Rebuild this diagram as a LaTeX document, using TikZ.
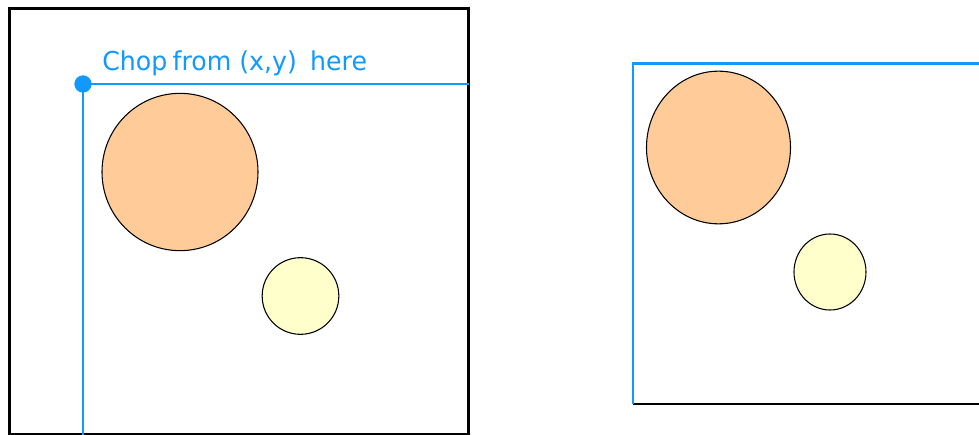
\documentclass[tikz,border=0pt]{standalone}
\usepackage{fontspec}
\setmainfont{DejaVu Sans}
\newfontfamily\chopfont[FakeStretch=0.97]{DejaVu Sans}
\usetikzlibrary{positioning,shapes.geometric}
\definecolor{chopBlue}{RGB}{17,153,255}
\definecolor{ballOrange}{RGB}{255,204,153}
\definecolor{ballYellow}{RGB}{255,255,204}

\begin{document}
\begin{tikzpicture}[x=0.75pt,y=-0.75pt,
  ball/.style={ellipse, draw=black, line width=0.8pt, inner sep=0pt},
  frame/.style={line width=2.2pt}]
\clip (0,0) rectangle (979,435);
% original picture
\begin{scope}
\draw[black, frame] (9.5,8.5) rectangle (468.5,434);
\node[ball, fill=ballOrange, minimum width=117pt, minimum height=118pt] (bigL) at (180,172) {};
\node[ball, fill=ballYellow, minimum size=57.5pt] (smallL) at (300.5,296) {};
\fill[chopBlue] (83,84) circle (6.5pt);
\coordinate (xy) at (83,84);
\coordinate (xyR) at (469,84);
\coordinate (xyB) at (83,436);
\draw[chopBlue, line width=1pt] (xy) -- (xyR);
\draw[chopBlue, line width=1pt] (xy) -- (xyB);
\node[text=chopBlue, anchor=base west, inner sep=0pt, font=\chopfont\fontsize{19.5}{22}\selectfont] (chop) at (102,71) {Chop\hspace{-0.1em} from (x,y)\hspace{0.2em} here};
\end{scope}
% chopped picture
\begin{scope}
\coordinate (cropTL) at (633,63.5);
\coordinate (cropBL) at (633,404);
\coordinate (cropTR) at (985,63.5);
\coordinate (cropBR) at (985,404);
\draw[black, frame] (cropBL) -- (cropBR);
\draw[chopBlue, frame] (cropBL) -- (cropTL) -- (cropTR);
\node[ball, fill=ballOrange, minimum width=108pt, minimum height=114.5pt] (bigR) at (718.5,147.5) {};
\node[ball, fill=ballYellow, minimum width=54pt, minimum height=57pt] (smallR) at (830,272) {};
\end{scope}
\end{tikzpicture}
\end{document}
